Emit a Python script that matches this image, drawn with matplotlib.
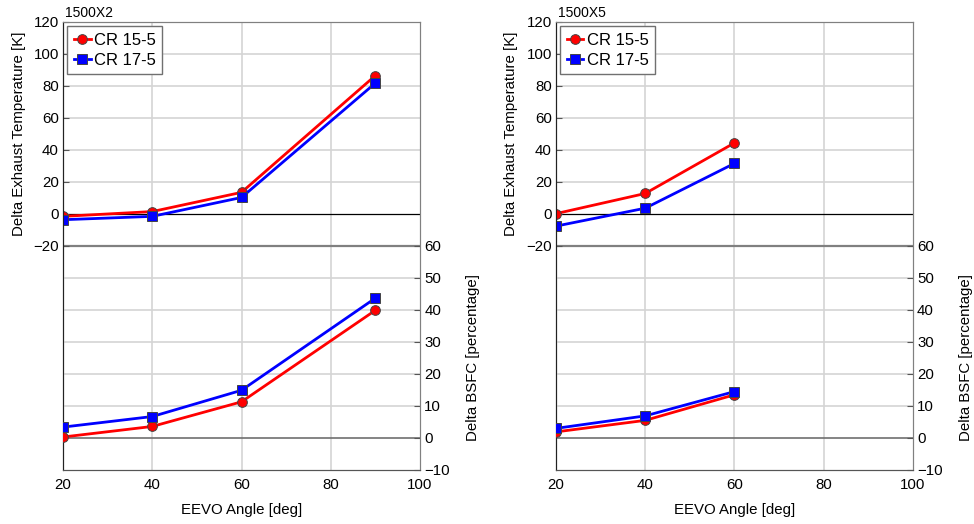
import matplotlib
matplotlib.use("Agg")
import matplotlib.pyplot as plt

plt.rcParams['font.family'] = ['Liberation Sans', 'DejaVu Sans']

# EEVO angles [deg]
angles_x2 = [20, 40, 60, 90]
angles_x5 = [20, 40, 60]

# 1500X2 case
temp_x2_cr15 = [-1.5, 1.5, 13.5, 86.5]
temp_x2_cr17 = [-3.6, -1.5, 10.3, 81.8]
bsfc_x2_cr15 = [0.3, 3.6, 11.3, 39.9]
bsfc_x2_cr17 = [3.4, 6.7, 14.9, 43.7]

# 1500X5 case
temp_x5_cr15 = [0.2, 12.8, 44.4]
temp_x5_cr17 = [-7.6, 3.6, 31.6]
bsfc_x5_cr15 = [1.9, 5.5, 13.5]
bsfc_x5_cr17 = [3.0, 6.9, 14.5]

series_names = ["CR 15-5", "CR 17-5"]
temp_ticks = [-20, 0, 20, 40, 60, 80, 100, 120]
bsfc_ticks = [-10, 0, 10, 20, 30, 40, 50, 60]
x_ticks = [20, 40, 60, 80, 100]

FS = 10.8
GRID = "#d4d4d4"


def style(color, marker):
    return dict(color=color, lw=2, marker=marker, markersize=7,
                markerfacecolor=color, markeredgecolor="#444444",
                markeredgewidth=0.7)


def draw_panel(fig, rect, title, x, t15, t17, b15, b17):
    ax = fig.add_axes(rect)
    ax2 = ax.twinx()

    ax.set_xlim(20, 100)
    ax.set_ylim(-160, 120)
    ax2.set_ylim(-10, 130)
    ax.set_xticks(x_ticks)
    ax.set_yticks(temp_ticks)
    ax2.set_yticks(bsfc_ticks)

    # grid lines
    for xv in x_ticks[1:-1]:
        ax.axvline(xv, color=GRID, lw=1.2, zorder=0)
    for yv in temp_ticks[2:]:
        ax.axhline(yv, color=GRID, lw=1.2, zorder=0)
    for yv in bsfc_ticks[2:-1]:
        ax2.axhline(yv, color=GRID, lw=1.2, zorder=0)
    ax.axhline(0, color="black", lw=0.9, zorder=1)
    ax.axhline(-20, color="#808080", lw=1.6, zorder=1)
    ax2.axhline(0, color="#707070", lw=1.2, zorder=1)

    h1, = ax.plot(x, t15, **style("#ff0000", "o"), zorder=3)
    h2, = ax.plot(x, t17, **style("#0000ff", "s"), zorder=3)
    ax2.plot(x, b15, **style("#ff0000", "o"), zorder=3)
    ax2.plot(x, b17, **style("#0000ff", "s"), zorder=3)

    for a in (ax, ax2):
        for s in ("top", "right"):
            a.spines[s].set_color("#808080")
        a.spines["left"].set_color("#222222")
        a.spines["bottom"].set_color("#555555")
        a.tick_params(labelsize=FS, direction="in", length=4,
                      color="#555555", pad=3)
    ax.tick_params(axis="x", length=0, pad=6)

    ax.set_xlabel("EEVO Angle [deg]", fontsize=FS, labelpad=8)
    ax.text(0.005, 1.004, title, transform=ax.transAxes, fontsize=10,
            ha="left", va="bottom")
    ax.set_ylabel("Delta Exhaust Temperature [K]", fontsize=FS)
    ax.yaxis.set_label_coords(-0.105, 0.75)
    ax2.set_ylabel("Delta BSFC [percentage]", fontsize=FS)
    ax2.yaxis.set_label_coords(1.129, 0.25)

    leg = ax2.legend([h1, h2], series_names, loc="upper left",
                     bbox_to_anchor=(0.0, 1.0), fontsize=12,
                     fancybox=False, framealpha=1, edgecolor="#707070",
                     handlelength=1.0, handletextpad=0.2,
                     borderaxespad=0.25, borderpad=0.4, labelspacing=0.3)
    leg.get_frame().set_linewidth(1.0)
    return ax


fig = plt.figure(figsize=(9.74, 5.24), dpi=100)
draw_panel(fig, [0.0647, 0.1031, 0.3665, 0.855], "1500X2", angles_x2,
           temp_x2_cr15, temp_x2_cr17, bsfc_x2_cr15, bsfc_x2_cr17)
draw_panel(fig, [0.5708, 0.1031, 0.3665, 0.855], "1500X5", angles_x5,
           temp_x5_cr15, temp_x5_cr17, bsfc_x5_cr15, bsfc_x5_cr17)

fig.savefig("out.png", dpi=100)
